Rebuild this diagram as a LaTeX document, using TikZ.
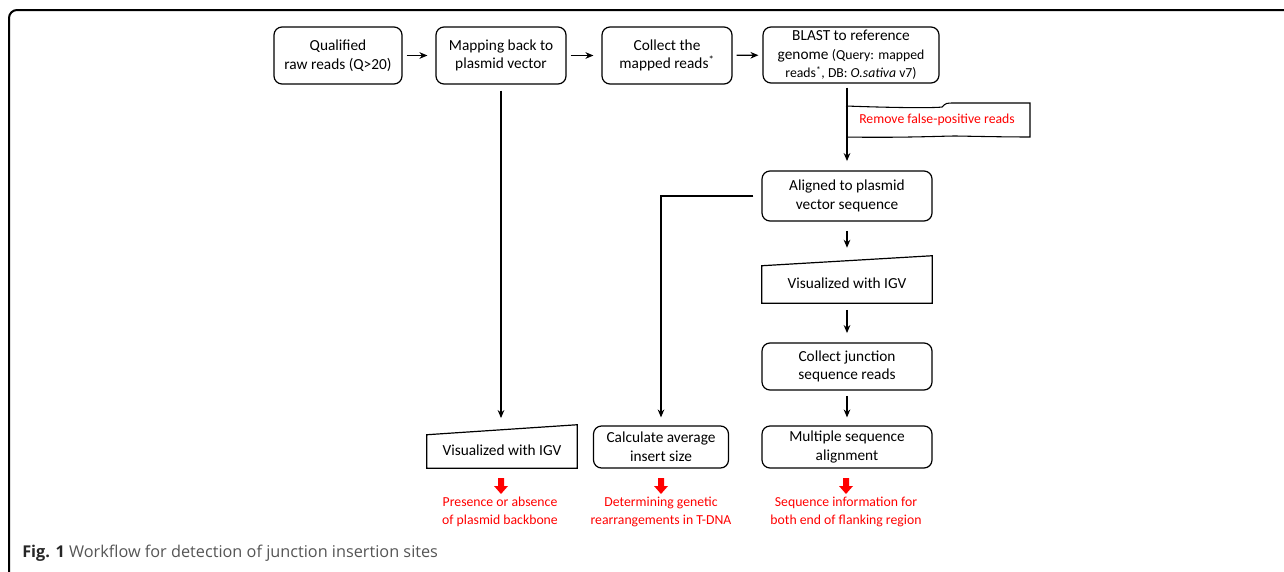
\documentclass[tikz,border=0pt]{standalone}
\usepackage{fontspec}
\setmainfont{Carlito}
\newfontfamily\capfont{Open Sans}
\usetikzlibrary{arrows.meta,calc}
\definecolor{capgray}{RGB}{85,85,85}
\begin{document}
\begin{tikzpicture}[x=0.75pt,y=-0.75pt,
  box/.style={draw, rounded corners=6pt, line width=0.9pt, align=center, inner sep=0pt,
    font=\fontsize{11.5}{14}\selectfont},
  shapeonly/.style={inner sep=0pt, draw=none},
  txt/.style={align=center, inner sep=0pt, font=\fontsize{11.5}{14}\selectfont},
  small/.style={font=\fontsize{10.3}{14}\selectfont},
  redtxt/.style={align=center, inner sep=0pt, text=red, font=\fontsize{10.3}{13.5}\selectfont},
  arr/.style={-{Stealth[length=6pt,width=5pt]}, line width=0.9pt},
  manual/.style={line width=0.9pt},
  redarrow/.pic={\fill[red] (-3,0) -- (3,0) -- (3,8) -- (7,8) -- (0,16) -- (-7,8) -- (-3,8) -- cycle;}
]
\clip (0,0) rectangle (1284,571);
\useasboundingbox (0,0) rectangle (1284,571);
% frame
\draw[line width=1.5pt, rounded corners=6pt] (9,620) -- (9,10) -- (1320,10);

% top row
\node[box, minimum width=96pt, minimum height=42.75pt] (b1) at (338,55.5) {Qualified\\raw reads (Q>20)};
\node[box, minimum width=97.5pt, minimum height=42.75pt] (b2) at (501,55.5) {Mapping back to\\plasmid vector};
\node[box, minimum width=97.5pt, minimum height=42.75pt] (b3) at (667,55.5) {Collect the\\mapped reads\textsuperscript{*}};
\node[box, minimum width=132pt, minimum height=42pt] (b4) at (851,55) {BLAST to reference\\genome {\fontsize{10.3}{14}\selectfont (Query: mapped}\\{\fontsize{10.3}{14}\selectfont reads\textsuperscript{*}, DB: \textit{O.sativa} v7)}};

\draw[arr, shorten <=3pt, shorten >=6pt] (b1) -- (b2);
\draw[arr, shorten <=3pt, shorten >=6pt] (b2) -- (b3);
\draw[arr, shorten <=3pt, shorten >=3pt] (b3) -- (b4);

% right column
\node[box, minimum width=127.5pt, minimum height=37.5pt] (al) at (847,196) {Aligned to plasmid\\vector sequence};
\node[shapeonly, minimum width=127.5pt, minimum height=35.25pt] (igvB) at (847,279.5) {};
\draw[manual] (igvB.south west) -- (igvB.south east) -- (igvB.north east) -- ($(igvB.north west)+(0,10)$) -- cycle;
\node[txt] (igvBt) at (847,283.5) {Visualized with IGV};
\node[box, minimum width=127.5pt, minimum height=35.25pt] (cj) at (847,366.5) {Collect junction\\sequence reads};
\node[box, minimum width=127.5pt, minimum height=31.5pt] (ms) at (847,447) {Multiple sequence\\alignment};

% tape
\coordinate (tl) at (846,106);
\draw[line width=0.8pt, fill=white] (tl) .. controls (900,108) and (935,108) .. (942,107)
  .. controls (946,103) .. (955,103) -- (1030,103) -- (1030,137)
  .. controls (1000,137) and (960,136) .. (955,136) .. controls (945,136) and (900,138) .. (846,137);
\node[redtxt] (rm) at (937,120) {Remove false-positive reads};

\draw[arr, shorten <=3pt, shorten >=7pt] (al.north |- b4.south) -- (al.north);
\draw[arr, shorten <=7pt, shorten >=6pt] (al.south) -- (igvB.north);
\draw[arr, shorten <=5pt, shorten >=7pt] (igvB.south) -- (cj.north);
\draw[arr, shorten <=4pt, shorten >=6pt] (cj.south) -- (ms.north);

% middle column
\node[box, minimum width=101.25pt, minimum height=31.5pt] (ca) at (661,447) {Calculate average\\insert size};
\draw[arr, shorten <=6pt, shorten >=6pt] (al.west) -- (al.west -| ca.north) -- (ca.north);

% left column
\node[shapeonly, minimum width=112.5pt, minimum height=32.25pt] (igvA) at (502,446.5) {};
\draw[manual] (igvA.south west) -- (igvA.south east) -- (igvA.north east) -- ($(igvA.north west)+(0,10)$) -- cycle;
\node[txt] (igvAt) at (502,450.5) {Visualized with IGV};
\draw[arr, shorten <=4.5pt, shorten >=5pt] (b2.south) -- (b2.south |- igvA.north);

% red results
\pic at (501,478) {redarrow};
\pic at (661,478) {redarrow};
\pic at (846,478) {redarrow};
\node[redtxt] (r1) at (500,512) {Presence or absence\\of plasmid backbone};
\node[redtxt] (r2) at (661,512) {Determining genetic\\rearrangements in T-DNA};
\node[redtxt] (r3) at (846,512) {Sequence information for\\both end of flanking region};

% caption
\node[anchor=base west, inner sep=0pt, font=\capfont\fontsize{12.2}{15}\selectfont, text=capgray] (cap) at (22,557)
  {{\bfseries\color{black!85}Fig. 1} Workflow for detection of junction insertion sites};
\end{tikzpicture}
\end{document}
